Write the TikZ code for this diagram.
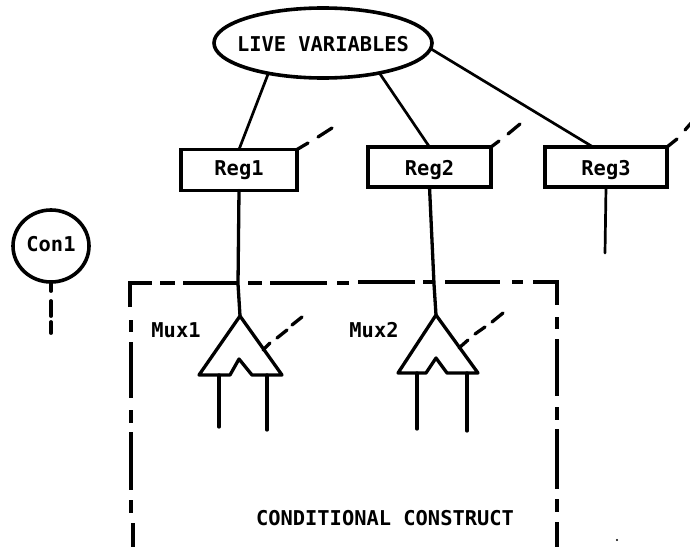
\documentclass[tikz,border=0pt]{standalone}
\usepackage{fontspec}
\setmainfont{DejaVu Sans Mono}[BoldFont={DejaVu Sans Mono Bold}]
\usetikzlibrary{shapes.geometric}
\tikzset{
  every node/.style={font=\fontsize{20.4}{22}\selectfont\bfseries, text height=15pt, text depth=4pt, outer sep=0pt},
  lowtext/.style={text height=21pt},
  wire/.style={line width=3.3pt, line cap=round, line join=round},
  thinwire/.style={line width=2.7pt, line cap=round},
  regbox/.style={draw, line width=3.3pt, rectangle, minimum width=#1, minimum height=40pt, inner sep=0pt},
  oval/.style={draw, line width=3.6pt, ellipse, inner ysep=0pt, inner xsep=-12pt},
  frame/.style={line width=3.2pt, line cap=butt, line join=miter},
  lbl/.style={inner sep=0pt}
}
\begin{document}
\begin{tikzpicture}[x=1pt,y=-1pt]
\useasboundingbox (0,0) rectangle (690,546);
\clip (0,0) rectangle (690,546);
% nodes
\node[oval, lowtext, minimum width=218pt, minimum height=70pt] (lv) at (323,43) {LIVE VARIABLES};
\node[regbox=116pt, minimum height=41pt] (reg1) at (239,170) {Reg1};
\node[regbox=123pt, lowtext] (reg2) at (429.5,167) {Reg2};
\node[regbox=122pt, lowtext] (reg3) at (606,167) {Reg3};
\node[oval, inner xsep=0pt, minimum width=76pt, minimum height=72pt] (con) at (51,246) {Con1};
\node[lbl] (m1l) at (176,332) {Mux1};
\node[lbl] (m2l) at (374,332) {Mux2};
\node[lbl] (cc) at (385,520) {CONDITIONAL CONSTRUCT};
% mux apex coordinates
\coordinate (mux1) at (240,316);
\coordinate (mux2) at (436,315);
\coordinate (r3end) at (605,253);
% live variables to registers
\draw[thinwire] (lv.209) -- (reg1.north);
\draw[thinwire] (lv.-28) -- (reg2.north);
\draw[thinwire] (lv.-3) -- ([xshift=-13pt]reg3.north);
% register outputs
\draw[wire] (reg1.south) -- (238,284) -- (mux1);
\draw[wire] (reg2.south) -- (434,284) -- (mux2);
\draw[thinwire] (reg3.south) -- (r3end);
% register control dashes
\draw[wire] (reg1.north east) -- (308,143) (318,137) -- (332,128);
\draw[wire] (reg2.north east) -- (499,141) (508,134) -- (520,124);
\draw[wire] (reg3.north east) -- (677,139) (685,130) -- (692,122);
% constant
\draw[wire, line width=3.8pt] (con.south) -- (51,291) (51,301) -- (51,316) (51,322) -- (51,333);
% muxes
\draw[wire] (mux1) -- (199,375) -- (230,375) -- (239,359) -- (252,375) -- (282,375) -- cycle;
\draw[wire] (219,375) -- (219,427) (267,375) -- (267,430);
\draw[wire] (263,350) -- (270,343) (277,338) -- (287,330) (292,325) -- (302,317);
\draw[wire] (mux2) -- (398,373) -- (426,373) -- (436,358) -- (447,373) -- (478,373) -- cycle;
\draw[wire] (417,373) -- (417,429) (467,373) -- (467,431);
\draw[wire] (459,348) -- (468,340) (475,334) -- (485,327) (492,322) -- (503,313);
% conditional construct frame
\draw[frame] (130,307) -- (130,283) -- (152,283)
  (160,283) -- (175,283) (183,283) -- (238,283) (248,283) -- (262,283)
  (270,283) -- (327,283) (337,283) -- (349,283) (358,282) -- (415,282)
  (423,282) -- (435,282) (445,282) -- (500,282) (512,282) -- (523,282)
  (533,282) -- (557,282) -- (557,305)
  (557,317) -- (557,329) (557,339) -- (557,396) (557,407) -- (557,420)
  (557,429) -- (557,489) (557,499) -- (557,512) (557,522) -- (557,548)
  (131,320) -- (131,332) (131,342) -- (131,398) (131,410) -- (131,423)
  (131,432) -- (131,490) (131,500) -- (131,513) (133,523) -- (133,548);
\fill (617,540) circle (1.2pt);
\end{tikzpicture}
\end{document}
